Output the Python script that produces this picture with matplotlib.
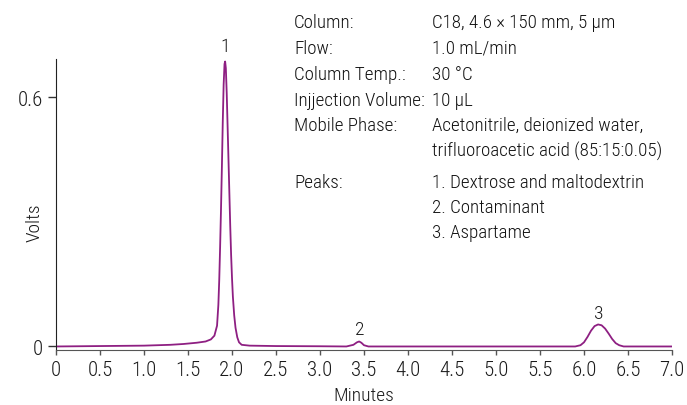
import matplotlib
matplotlib.use("Agg")
import matplotlib.pyplot as plt
from matplotlib import font_manager

names = {f.name for f in font_manager.fontManager.ttflist}
fam = [f for f in ["Liberation Sans Narrow", "Roboto Condensed", "Liberation Sans", "DejaVu Sans"] if f in names]
plt.rcParams['font.family'] = fam
plt.rcParams['font.weight'] = 'light'

# chromatogram trace
minutes = [0.0, 1.0, 1.3, 1.45, 1.6, 1.7, 1.76, 1.80, 1.83, 1.845, 1.855, 1.865, 1.875,
           1.885, 1.895, 1.905, 1.915, 1.922, 1.93, 1.94, 1.95, 1.96, 1.97, 1.98, 1.99,
           2.00, 2.01, 2.025, 2.04, 2.06, 2.08, 2.11, 2.2, 2.5, 3.0, 3.3, 3.38, 3.42,
           3.445, 3.47, 3.5, 3.55, 5.9, 5.96, 6.0, 6.04, 6.08, 6.12, 6.16, 6.20, 6.24,
           6.28, 6.32, 6.36, 6.40, 6.45, 7.0]
volts = [0.0, 0.002, 0.004, 0.006, 0.009, 0.012, 0.017, 0.026, 0.05, 0.10, 0.16, 0.24, 0.33,
         0.43, 0.54, 0.63, 0.68, 0.686, 0.67, 0.61, 0.53, 0.45, 0.37, 0.29, 0.22,
         0.165, 0.12, 0.075, 0.045, 0.022, 0.01, 0.004, 0.002, 0.001, 0.0005, 0.0, 0.004, 0.010,
         0.012, 0.009, 0.003, 0.0, 0.0, 0.003, 0.010, 0.023, 0.038, 0.049, 0.053, 0.051, 0.043,
         0.031, 0.018, 0.008, 0.003, 0.0, 0.0]

peak_labels = ["1", "2", "3"]
peak_times = [1.92, 3.45, 6.17]
peak_heights = [0.686, 0.012, 0.053]

x_ticks = [0, 0.5, 1.0, 1.5, 2.0, 2.5, 3.0, 3.5, 4.0, 4.5, 5.0, 5.5, 6.0, 6.5, 7.0]
x_tick_labels = ["0", "0.5", "1.0", "1.5", "2.0", "2.5", "3.0", "3.5", "4.0", "4.5",
                 "5.0", "5.5", "6.0", "6.5", "7.0"]
y_ticks = [0, 0.6]
y_tick_labels = ["0", "0.6"]

info_keys = ["Column:", "Flow:", "Column Temp.:", "Injjection Volume:", "Mobile Phase:", "", "Peaks:", "", ""]
info_vals = ["C18, 4.6 \u00d7 150 mm, 5 \u00b5m", "1.0 mL/min", "30 \u00b0C", "10 \u00b5L",
             "Acetonitrile, deionized water,", "trifluoroacetic acid (85:15:0.05)",
             "1. Dextrose and maltodextrin", "2. Contaminant", "3. Aspartame"]

# layout (pixels)
W, H = 687, 406
info_baseline_px = [28.5, 54, 80, 105.5, 131, 156.5, 188, 213, 238.5]
label_offsets_pt = [7.7, 5.5, 5.0]

fig = plt.figure(figsize=(W / 100, H / 100), dpi=100)
ax = fig.add_axes([56 / W, (H - 351) / H, (672 - 56) / W, (351 - 60) / H])

color = "#8e1f82"
ax.plot(minutes, volts, color=color, lw=1.3)

ax.set_xlim(0, 7.0)
ax.set_ylim(-0.0085, 0.692)

ax.set_xticks(x_ticks)
ax.set_xticklabels(x_tick_labels)
ax.set_yticks(y_ticks)
ax.set_yticklabels(y_tick_labels)
tc = "#1a1a1a"
ax.tick_params(axis='y', direction='out', length=6, width=1, colors='#333333',
               labelcolor=tc, labelsize=15, pad=3.5)
ax.tick_params(axis='x', direction='out', length=3.3, width=1, colors='#555555',
               labelcolor=tc, labelsize=15, pad=4)

for s in ["top", "right"]:
    ax.spines[s].set_visible(False)
ax.spines["left"].set_color("#222222")
ax.spines["bottom"].set_color("#555555")

fig.text(364 / W, 1 - 401 / H, "Minutes", ha="center", va="baseline", fontsize=14, color=tc)
fig.text(34.5 / W, 1 - 223 / H, "Volts", ha="center", va="center", rotation=90,
         fontsize=14, color=tc)

for lab, t, h, off in zip(peak_labels, peak_times, peak_heights, label_offsets_pt):
    ax.annotate(lab, (t, h), xytext=(0, off), textcoords="offset points",
                ha="center", va="baseline", fontsize=14, color=tc)

for k, v, y in zip(info_keys, info_vals, info_baseline_px):
    fig.text(294 / W, 1 - y / H, k, ha="left", va="baseline", fontsize=13.7, color="#111111")
    fig.text(432 / W, 1 - y / H, v, ha="left", va="baseline", fontsize=13.7, color="#111111")

fig.savefig("out.png", dpi=100)
